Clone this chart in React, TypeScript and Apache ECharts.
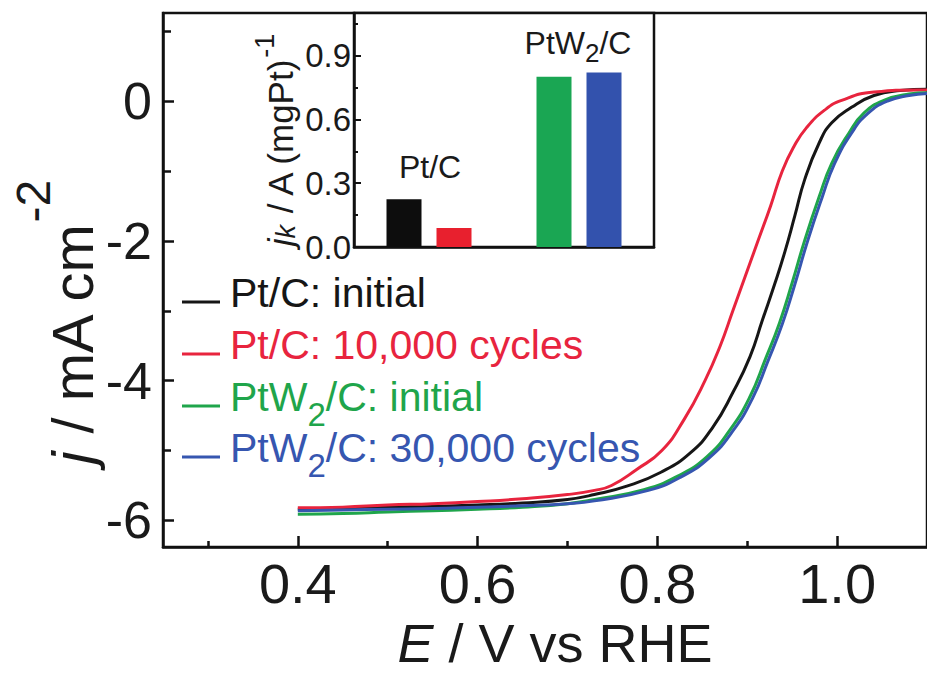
import React, { useEffect, useRef } from "react";
import * as echarts from "echarts";

const FONT = "'Liberation Sans', Arial, Helvetica, sans-serif";

// ---- Main plot data (E / V vs RHE, j / mA cm^-2) ----
const ptcInitialE = [0.4, 0.45, 0.5, 0.55, 0.6, 0.65, 0.7, 0.73, 0.766, 0.804, 0.837, 0.862, 0.884, 0.903, 0.917, 0.931, 0.942, 0.953, 0.964, 0.98, 0.994, 1.016, 1.041, 1.07, 1.1];
const ptcInitialJ = [-5.84, -5.83, -5.81, -5.8, -5.78, -5.75, -5.7, -5.63, -5.51, -5.31, -5.03, -4.66, -4.17, -3.66, -3.13, -2.6, -2.15, -1.64, -1.12, -0.6, -0.31, -0.09, 0.08, 0.15, 0.17];

const ptc10kE = [0.4, 0.45, 0.5, 0.55, 0.6, 0.65, 0.7, 0.73, 0.749, 0.777, 0.805, 0.83, 0.853, 0.87, 0.884, 0.898, 0.912, 0.926, 0.939, 0.952, 0.966, 0.986, 1.005, 1.041, 1.09, 1.1];
const ptc10kJ = [-5.82, -5.81, -5.78, -5.76, -5.73, -5.69, -5.63, -5.57, -5.5, -5.27, -5.0, -4.55, -4.0, -3.5, -3.0, -2.5, -2.0, -1.5, -1.0, -0.65, -0.38, -0.13, 0.01, 0.13, 0.16, 0.16];

const ptw2InitialE = [0.4, 0.45, 0.5, 0.55, 0.6, 0.65, 0.7, 0.73, 0.785, 0.822, 0.855, 0.881, 0.903, 0.92, 0.936, 0.95, 0.964, 0.98, 0.994, 1.013, 1.03, 1.052, 1.08, 1.1];
const ptw2InitialJ = [-5.91, -5.9, -5.88, -5.86, -5.84, -5.81, -5.76, -5.7, -5.56, -5.37, -5.09, -4.7, -4.23, -3.7, -3.17, -2.6, -1.99, -1.37, -0.89, -0.46, -0.17, 0.01, 0.1, 0.12];

const ptw230kE = [0.4, 0.45, 0.5, 0.55, 0.6, 0.65, 0.7, 0.73, 0.79, 0.826, 0.858, 0.884, 0.906, 0.923, 0.939, 0.953, 0.967, 0.983, 0.997, 1.016, 1.034, 1.056, 1.08, 1.1];
const ptw230kJ = [-5.86, -5.85, -5.84, -5.83, -5.81, -5.79, -5.76, -5.72, -5.57, -5.38, -5.1, -4.72, -4.25, -3.72, -3.19, -2.62, -2.01, -1.39, -0.9, -0.46, -0.18, 0.0, 0.08, 0.11];

const seriesNames = ["Pt/C: initial", "Pt/C: 10,000 cycles", "PtW2/C: initial", "PtW2/C: 30,000 cycles"];
const seriesColors = ["#161616", "#e8243e", "#1fa54b", "#3656b0"];

// ---- Inset bar data (jk / A (mgPt)^-1) ----
const insetPositions = [1, 2, 4, 5];
const insetValues = [0.225, 0.089, 0.8, 0.82];
const insetColors = ["#0d0d0d", "#e8202e", "#1aa653", "#3352ad"];

// ---- Ticks ----
const xMajorTicks = [0.4, 0.6, 0.8, 1.0];
const xMinorTicks = [0.3, 0.5, 0.7, 0.9];
const yMajorTicks = [-6, -4, -2, 0];
const yMinorTicks = [-5, -3, -1, 1];
const insetYTicks = [0, 0.3, 0.6, 0.9];
const insetYMinorTicks = [0.15, 0.45, 0.75, 1.05];

const zip = (xs: number[], ys: number[]) => xs.map((x, i) => [x, ys[i]]);

const AXIS_COLOR = "#111";
const AXIS_W = 2.5;

function rt(size: number, color: string, extra: any = {}) {
  return { fontSize: size, lineHeight: size, fontFamily: FONT, fill: color, color, ...extra };
}

export default function App() {
  const ref = useRef<HTMLDivElement>(null);

  useEffect(() => {
    if (!ref.current) return;
    const chart = echarts.init(ref.current, null, { renderer: "svg" });

    const curves = [
      zip(ptcInitialE, ptcInitialJ),
      zip(ptc10kE, ptc10kJ),
      zip(ptw2InitialE, ptw2InitialJ),
      zip(ptw230kE, ptw230kJ),
    ];

    const legendRows = [293, 345, 397, 448];
    const legendTexts = [
      "{n|Pt/C: initial}",
      "{n|Pt/C: 10,000 cycles}",
      "{n|PtW}{s|2}{n|/C: initial}",
      "{n|PtW}{s|2}{n|/C: 30,000 cycles}",
    ];

    const legendGraphics: any[] = [];
    legendRows.forEach((y, i) => {
      legendGraphics.push({
        type: "line",
        shape: { x1: 182, y1: y + 9, x2: 220, y2: y + 9 },
        style: { stroke: seriesColors[i], lineWidth: 3 },
        z: 10,
      });
      legendGraphics.push({
        type: "text",
        x: 230,
        y: y,
        z: 10,
        style: {
          text: legendTexts[i],
          align: "left",
          textAlign: "left",
          verticalAlign: "middle",
          textVerticalAlign: "middle",
          rich: {
            n: rt(41, seriesColors[i]),
            s: rt(33, seriesColors[i], { padding: [34, 0, 0, 0] }),
          },
        },
      });
    });

    const option: any = {
      animation: false,
      backgroundColor: "#fff",
      textStyle: { fontFamily: FONT },
      grid: [
        { left: 163, top: 13, width: 773, height: 534, show: true, borderColor: AXIS_COLOR, borderWidth: AXIS_W, backgroundColor: "transparent", containLabel: false },
        { left: 354, top: 13, width: 300, height: 234, show: true, borderColor: AXIS_COLOR, borderWidth: AXIS_W, backgroundColor: "#fff", containLabel: false },
      ],
      xAxis: [
        {
          gridIndex: 0, type: "value", min: 0.25, max: 1.1, position: "bottom",
          axisLine: { show: true, onZero: false, lineStyle: { color: AXIS_COLOR, width: AXIS_W } },
          axisTick: { show: true, inside: true, length: 11, customValues: xMajorTicks, lineStyle: { color: AXIS_COLOR, width: AXIS_W } },
          axisLabel: { show: true, customValues: xMajorTicks, formatter: (v: number) => v.toFixed(1), fontSize: 56, color: "#1a1a1a", fontFamily: FONT, margin: 8 },
          splitLine: { show: false },
        },
        {
          gridIndex: 0, type: "value", min: 0.25, max: 1.1, position: "bottom",
          axisLine: { show: false, onZero: false },
          axisTick: { show: true, inside: true, length: 6, customValues: xMinorTicks, lineStyle: { color: AXIS_COLOR, width: AXIS_W } },
          axisLabel: { show: false },
          splitLine: { show: false },
        },
        {
          gridIndex: 1, type: "value", min: 0, max: 6,
          axisLine: { show: true, onZero: false, lineStyle: { color: AXIS_COLOR, width: AXIS_W } },
          axisTick: { show: false },
          axisLabel: { show: false },
          splitLine: { show: false },
        },
      ],
      yAxis: [
        {
          gridIndex: 0, type: "value", min: -6.38, max: 1.26, position: "left",
          axisLine: { show: true, onZero: false, lineStyle: { color: AXIS_COLOR, width: AXIS_W } },
          axisTick: { show: true, inside: true, length: 11, customValues: yMajorTicks, lineStyle: { color: AXIS_COLOR, width: AXIS_W } },
          axisLabel: { show: true, customValues: yMajorTicks, formatter: (v: number) => String(v), fontSize: 52, color: "#1a1a1a", fontFamily: FONT, margin: 11 },
          splitLine: { show: false },
        },
        {
          gridIndex: 0, type: "value", min: -6.38, max: 1.26, position: "left",
          axisLine: { show: false, onZero: false },
          axisTick: { show: true, inside: true, length: 8, customValues: yMinorTicks, lineStyle: { color: AXIS_COLOR, width: AXIS_W } },
          axisLabel: { show: false },
          splitLine: { show: false },
        },
        {
          gridIndex: 1, type: "value", min: 0, max: 1.1, position: "left",
          axisLine: { show: true, onZero: false, lineStyle: { color: AXIS_COLOR, width: AXIS_W } },
          axisTick: { show: true, inside: true, length: 7, customValues: insetYTicks, lineStyle: { color: AXIS_COLOR, width: 2 } },
          axisLabel: { show: true, customValues: insetYTicks, formatter: (v: number) => v.toFixed(1), fontSize: 33, color: "#1a1a1a", fontFamily: FONT, margin: 3 },
          splitLine: { show: false },
        },
        {
          gridIndex: 1, type: "value", min: 0, max: 1.1, position: "left",
          axisLine: { show: false, onZero: false },
          axisTick: { show: true, inside: true, length: 4, customValues: insetYMinorTicks, lineStyle: { color: AXIS_COLOR, width: 2 } },
          axisLabel: { show: false },
          splitLine: { show: false },
        },
      ],
      series: [
        ...curves.map((data, i) => ({
          type: "line",
          name: seriesNames[i],
          xAxisIndex: 0,
          yAxisIndex: 0,
          data,
          symbol: "none",
          smooth: 0.5,
          lineStyle: { color: seriesColors[i], width: 3 },
          z: 3,
        })),
        {
          type: "bar",
          xAxisIndex: 2,
          yAxisIndex: 2,
          barWidth: 35,
          data: insetPositions.map((p, i) => ({ value: [p, insetValues[i]], itemStyle: { color: insetColors[i] } })),
          z: 5,
        },
      ],
      graphic: [
        ...legendGraphics,
        {
          type: "text",
          x: 555,
          y: 643,
          style: {
            text: "{i|E}{n| / V vs RHE}",
            align: "center", textAlign: "center",
            verticalAlign: "middle", textVerticalAlign: "middle",
            rich: {
              i: rt(54, "#1a1a1a", { fontStyle: "italic" }),
              n: rt(54, "#1a1a1a"),
            },
          },
        },
        {
          type: "text",
          x: 72,
          y: 322,
          rotation: Math.PI / 2,
          style: {
            text: "{i|j}{n| / mA cm}{s|-2}",
            align: "center", textAlign: "center",
            verticalAlign: "middle", textVerticalAlign: "middle",
            rich: {
              i: rt(58, "#1a1a1a", { fontStyle: "italic" }),
              n: rt(58, "#1a1a1a"),
              s: rt(48, "#1a1a1a", { padding: [0, 0, 78, 0] }),
            },
          },
        },
        {
          type: "text",
          x: 280,
          y: 140,
          rotation: Math.PI / 2,
          z: 10,
          style: {
            text: "{i|j}{k|k}{n| / A (mgPt)}{s|-1}",
            align: "center", textAlign: "center",
            verticalAlign: "middle", textVerticalAlign: "middle",
            rich: {
              i: rt(35, "#1a1a1a", { fontStyle: "italic" }),
              k: rt(27, "#1a1a1a", { fontStyle: "italic", padding: [12, 0, 0, 0] }),
              n: rt(35, "#1a1a1a"),
              s: rt(27, "#1a1a1a", { padding: [0, 0, 30, 0] }),
            },
          },
        },
        {
          type: "text",
          x: 430,
          y: 167,
          z: 10,
          style: {
            text: "Pt/C",
            fontSize: 32, fontFamily: FONT, fill: "#1a1a1a",
            align: "center", textAlign: "center",
            verticalAlign: "middle", textVerticalAlign: "middle",
          },
        },
        {
          type: "text",
          x: 578,
          y: 43,
          z: 10,
          style: {
            text: "{n|PtW}{s|2}{n|/C}",
            align: "center", textAlign: "center",
            verticalAlign: "middle", textVerticalAlign: "middle",
            rich: {
              n: rt(32, "#1a1a1a"),
              s: rt(26, "#1a1a1a", { padding: [20, 0, 0, 0] }),
            },
          },
        },
      ],
    };

    chart.setOption(option);
    return () => chart.dispose();
  }, []);

  return (
    <div
      ref={ref}
      style={{ position: "absolute", left: 0, top: 0, width: 927, height: 675, background: "#fff" }}
    />
  );
}
